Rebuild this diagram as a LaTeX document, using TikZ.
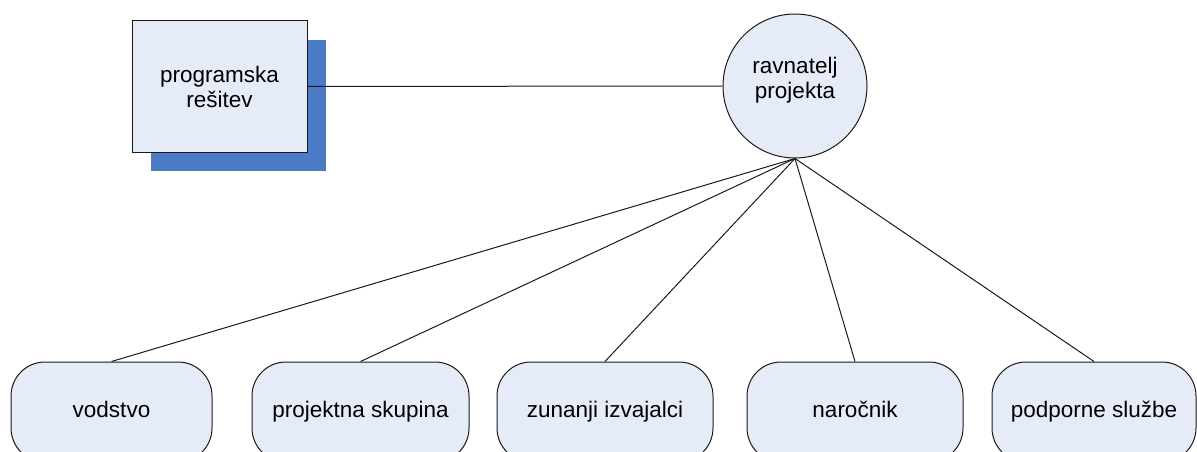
\documentclass[tikz,border=0pt]{standalone}
\usepackage{fontspec}
\setmainfont{Liberation Sans}
\usetikzlibrary{shadows}
\definecolor{boxfill}{HTML}{E6ECF7}
\definecolor{shadowblue}{HTML}{4A7BC4}
\definecolor{edge}{HTML}{1A1A1A}
\begin{document}
\begin{tikzpicture}[x=1pt,y=-1pt,
  every node/.style={font=\fontsize{22.5}{25}\selectfont, inner sep=0pt},
  shape base/.style={draw=edge, line width=1pt, fill=boxfill},
  solution/.style={shape base, minimum width=175pt, minimum height=131pt, align=center,
    drop shadow={shadow xshift=19pt, shadow yshift=-19pt, fill=shadowblue, opacity=1}},
  manager/.style={shape base, circle, minimum size=144pt},
  party/.style={shape base, rounded corners=34pt, minimum height=100pt,
    text height=16pt, text depth=5pt},
  link/.style={line width=1pt, draw=edge}]
\clip (0,0) rectangle (1197,452);

% software product with its blue shadow
\node[solution] (prog) at (219.5,86.5) {programska\\rešitev};

% project manager
\node[manager] (rav) at (795,86) {};
\node[align=center] (ravtxt) at (795,80) {ravnatelj\\projekta};

% stakeholder groups
\node[party, minimum width=201pt] (vod) at (111.5,412) {vodstvo};
\node[party, minimum width=217pt] (skup) at (360.5,412) {projektna skupina};
\node[party, minimum width=216pt] (zun) at (605,412) {zunanji izvajalci};
\node[party, minimum width=216pt] (nar) at (855,412) {naročnik};
\node[party, minimum width=204pt] (pod) at (1094,412) {podporne službe};

% connections
\draw[link] (prog) -- (rav);
\foreach \t in {vod,skup,zun,nar,pod}
  \draw[link] (rav.south) -- (\t.north);
\end{tikzpicture}
\end{document}
